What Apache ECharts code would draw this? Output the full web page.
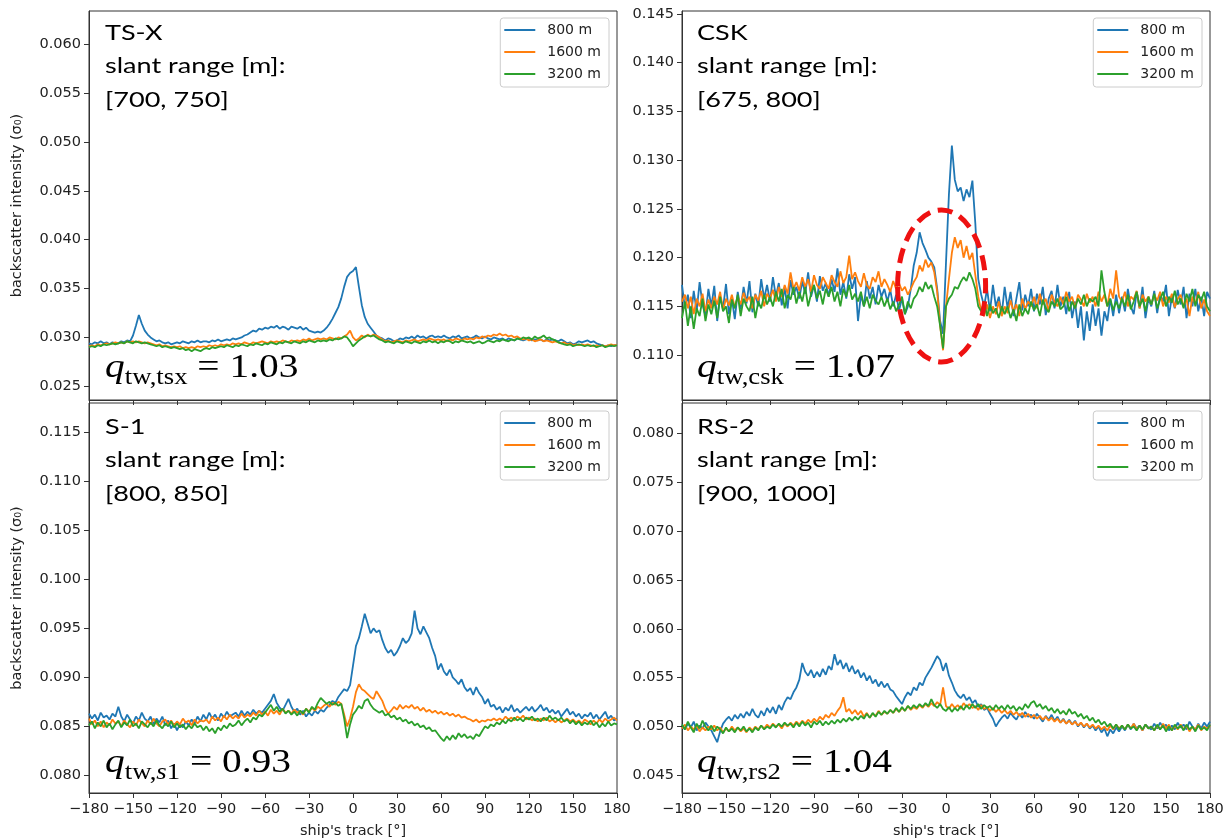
<!DOCTYPE html>
<html><head><meta charset="utf-8">
<script src="https://cdn.jsdelivr.net/npm/echarts@6/dist/echarts.min.js"></script>
<style>html,body{margin:0;padding:0;background:#fff}#c{width:1225px;height:840px}</style>
</head><body><div id="c"></div>
<script>
// ship's track [deg]
const track = [-180,-178,-176,-174,-172,-170,-168,-166,-164,-162,
-160,-158,-156,-154,-152,-150,-148,-146,-144,-142,
-140,-138,-136,-134,-132,-130,-128,-126,-124,-122,
-120,-118,-116,-114,-112,-110,-108,-106,-104,-102,
-100,-98,-96,-94,-92,-90,-88,-86,-84,-82,
-80,-78,-76,-74,-72,-70,-68,-66,-64,-62,
-60,-58,-56,-54,-52,-50,-48,-46,-44,-42,
-40,-38,-36,-34,-32,-30,-28,-26,-24,-22,
-20,-18,-16,-14,-12,-10,-8,-6,-4,-2,
0,2,4,6,8,10,12,14,16,18,
20,22,24,26,28,30,32,34,36,38,
40,42,44,46,48,50,52,54,56,58,
60,62,64,66,68,70,72,74,76,78,
80,82,84,86,88,90,92,94,96,98,
100,102,104,106,108,110,112,114,116,118,
120,122,124,126,128,130,132,134,136,138,
140,142,144,146,148,150,152,154,156,158,
160,162,164,166,168,170,172,174,176,178,
180];

const seriesNames = ['800 m', '1600 m', '3200 m'];

// TS-X
const tsx800 = [0.0294,0.0293,0.0295,0.0294,0.0296,0.0294,0.0295,0.0293,0.0295,0.0294,
0.0294,0.0296,0.0295,0.0297,0.0296,0.0302,0.0312,0.0323,0.0314,0.0307,
0.0303,0.0300,0.0298,0.0296,0.0297,0.0295,0.0294,0.0295,0.0293,0.0294,
0.0295,0.0294,0.0296,0.0295,0.0294,0.0296,0.0295,0.0297,0.0295,0.0296,
0.0296,0.0295,0.0297,0.0296,0.0298,0.0296,0.0297,0.0298,0.0297,0.0299,
0.0298,0.0299,0.0300,0.0302,0.0303,0.0305,0.0307,0.0306,0.0309,0.0308,
0.0310,0.0309,0.0311,0.0310,0.0312,0.0309,0.0311,0.0310,0.0308,0.0311,
0.0310,0.0309,0.0311,0.0308,0.0310,0.0307,0.0306,0.0305,0.0306,0.0305,
0.0307,0.0310,0.0314,0.0319,0.0325,0.0331,0.0340,0.0352,0.0362,0.0366,
0.0368,0.0372,0.0352,0.0333,0.0321,0.0314,0.0310,0.0306,0.0302,0.0300,
0.0299,0.0297,0.0299,0.0298,0.0296,0.0297,0.0299,0.0298,0.0300,0.0299,
0.0301,0.0299,0.0302,0.0300,0.0301,0.0299,0.0301,0.0302,0.0300,0.0301,
0.0300,0.0302,0.0300,0.0299,0.0301,0.0300,0.0302,0.0299,0.0300,0.0301,
0.0299,0.0300,0.0302,0.0300,0.0299,0.0301,0.0299,0.0298,0.0300,0.0299,
0.0298,0.0299,0.0297,0.0299,0.0298,0.0297,0.0299,0.0298,0.0297,0.0298,
0.0299,0.0297,0.0298,0.0297,0.0298,0.0296,0.0298,0.0297,0.0298,0.0297,
0.0296,0.0298,0.0296,0.0294,0.0295,0.0293,0.0294,0.0296,0.0295,0.0296,
0.0297,0.0295,0.0296,0.0294,0.0293,0.0292,0.0291,0.0292,0.0291,0.0292,
0.0292];
const tsx1600 = [0.0291,0.0292,0.0291,0.0293,0.0292,0.0293,0.0294,0.0293,0.0294,0.0295,
0.0294,0.0295,0.0294,0.0296,0.0295,0.0296,0.0295,0.0296,0.0295,0.0294,
0.0295,0.0294,0.0293,0.0292,0.0293,0.0291,0.0292,0.0291,0.0290,0.0291,
0.0290,0.0291,0.0289,0.0290,0.0289,0.0290,0.0289,0.0291,0.0290,0.0291,
0.0290,0.0292,0.0291,0.0292,0.0291,0.0293,0.0292,0.0293,0.0292,0.0294,
0.0293,0.0294,0.0293,0.0295,0.0294,0.0293,0.0295,0.0294,0.0295,0.0296,
0.0295,0.0294,0.0296,0.0295,0.0296,0.0295,0.0297,0.0296,0.0295,0.0297,
0.0296,0.0297,0.0296,0.0298,0.0297,0.0299,0.0297,0.0298,0.0299,0.0298,
0.0299,0.0298,0.0300,0.0299,0.0298,0.0300,0.0299,0.0301,0.0303,0.0307,
0.0300,0.0297,0.0299,0.0302,0.0300,0.0303,0.0301,0.0303,0.0302,0.0300,
0.0298,0.0296,0.0297,0.0295,0.0296,0.0297,0.0296,0.0295,0.0297,0.0296,
0.0297,0.0298,0.0296,0.0297,0.0298,0.0297,0.0299,0.0298,0.0297,0.0298,
0.0297,0.0298,0.0296,0.0298,0.0297,0.0299,0.0298,0.0297,0.0299,0.0298,
0.0299,0.0298,0.0300,0.0299,0.0301,0.0300,0.0302,0.0301,0.0303,0.0302,
0.0304,0.0302,0.0303,0.0301,0.0302,0.0300,0.0301,0.0299,0.0298,0.0299,
0.0297,0.0298,0.0296,0.0297,0.0298,0.0296,0.0297,0.0296,0.0295,0.0296,
0.0295,0.0294,0.0295,0.0293,0.0294,0.0292,0.0293,0.0292,0.0293,0.0292,
0.0293,0.0292,0.0291,0.0292,0.0291,0.0292,0.0291,0.0292,0.0293,0.0292,
0.0292];
const tsx3200 = [0.0290,0.0291,0.0290,0.0292,0.0291,0.0293,0.0292,0.0293,0.0294,0.0293,
0.0294,0.0295,0.0294,0.0296,0.0295,0.0294,0.0296,0.0295,0.0294,0.0295,
0.0294,0.0293,0.0292,0.0291,0.0292,0.0290,0.0291,0.0290,0.0289,0.0290,
0.0289,0.0288,0.0289,0.0287,0.0288,0.0286,0.0288,0.0287,0.0286,0.0288,
0.0289,0.0288,0.0290,0.0289,0.0290,0.0291,0.0290,0.0292,0.0291,0.0290,
0.0292,0.0291,0.0293,0.0292,0.0291,0.0293,0.0292,0.0294,0.0293,0.0292,
0.0294,0.0293,0.0295,0.0294,0.0293,0.0295,0.0294,0.0296,0.0295,0.0294,
0.0296,0.0295,0.0294,0.0296,0.0295,0.0297,0.0296,0.0295,0.0297,0.0296,
0.0297,0.0296,0.0298,0.0297,0.0299,0.0298,0.0299,0.0301,0.0300,0.0296,
0.0291,0.0294,0.0297,0.0299,0.0301,0.0302,0.0301,0.0302,0.0300,0.0298,
0.0297,0.0295,0.0296,0.0295,0.0294,0.0296,0.0295,0.0294,0.0296,0.0295,
0.0294,0.0296,0.0295,0.0294,0.0296,0.0295,0.0297,0.0295,0.0296,0.0294,
0.0296,0.0295,0.0297,0.0296,0.0294,0.0296,0.0295,0.0297,0.0296,0.0295,
0.0296,0.0294,0.0295,0.0296,0.0294,0.0295,0.0297,0.0296,0.0295,0.0297,
0.0296,0.0298,0.0297,0.0296,0.0298,0.0297,0.0299,0.0298,0.0300,0.0299,
0.0300,0.0298,0.0301,0.0299,0.0300,0.0302,0.0299,0.0300,0.0298,0.0297,
0.0295,0.0294,0.0293,0.0292,0.0293,0.0291,0.0292,0.0293,0.0292,0.0291,
0.0292,0.0291,0.0292,0.0290,0.0291,0.0292,0.0290,0.0291,0.0292,0.0291,
0.0292];

// CSK
const csk800 = [0.1172,0.1148,0.1162,0.1138,0.1166,0.1145,0.1175,0.1152,0.1140,0.1168,
0.1150,0.1171,0.1135,0.1160,0.1148,0.1173,0.1142,0.1158,0.1137,0.1165,
0.1147,0.1170,0.1153,0.1176,0.1144,0.1163,0.1150,0.1178,0.1158,0.1172,
0.1155,0.1180,0.1160,0.1174,0.1151,0.1169,0.1148,0.1177,0.1162,0.1170,
0.1158,0.1176,0.1163,0.1185,0.1160,0.1172,0.1155,0.1181,0.1166,0.1174,
0.1160,0.1178,0.1165,0.1189,0.1162,0.1175,0.1158,0.1183,0.1168,0.1180,
0.1135,0.1162,0.1150,0.1176,0.1158,0.1170,0.1152,0.1172,0.1160,0.1168,
0.1155,0.1167,0.1150,0.1162,0.1146,0.1158,0.1142,0.1150,0.1168,0.1192,
0.1205,0.1226,0.1215,0.1208,0.1200,0.1196,0.1190,0.1168,0.1135,0.1122,
0.1195,0.1265,0.1315,0.1280,0.1268,0.1272,0.1258,0.1270,0.1262,0.1279,
0.1235,0.1178,0.1162,0.1150,0.1168,0.1145,0.1172,0.1150,0.1160,0.1142,
0.1170,0.1148,0.1165,0.1140,0.1158,0.1175,0.1146,0.1162,0.1150,0.1168,
0.1145,0.1163,0.1152,0.1170,0.1141,0.1158,0.1166,0.1148,0.1172,0.1150,
0.1160,0.1142,0.1165,0.1138,0.1155,0.1128,0.1150,0.1115,0.1145,0.1125,
0.1152,0.1130,0.1148,0.1120,0.1145,0.1135,0.1158,0.1140,0.1162,0.1143,
0.1160,0.1145,0.1168,0.1150,0.1142,0.1165,0.1148,0.1170,0.1138,0.1158,
0.1150,0.1166,0.1143,0.1162,0.1155,0.1172,0.1140,0.1160,0.1148,0.1167,
0.1152,0.1170,0.1138,0.1163,0.1150,0.1168,0.1145,0.1160,0.1140,0.1165,
0.1158];
const csk1600 = [0.1155,0.1162,0.1148,0.1160,0.1142,0.1158,0.1150,0.1163,0.1145,0.1157,
0.1148,0.1160,0.1152,0.1165,0.1146,0.1158,0.1151,0.1162,0.1149,0.1160,
0.1152,0.1164,0.1155,0.1160,0.1148,0.1162,0.1156,0.1166,0.1150,0.1163,
0.1158,0.1167,0.1155,0.1170,0.1160,0.1172,0.1163,0.1185,0.1168,0.1175,
0.1166,0.1180,0.1170,0.1178,0.1165,0.1182,0.1172,0.1168,0.1180,0.1174,
0.1168,0.1182,0.1175,0.1170,0.1186,0.1174,0.1180,0.1202,0.1178,0.1185,
0.1176,0.1170,0.1184,0.1172,0.1168,0.1180,0.1175,0.1186,0.1170,0.1178,
0.1172,0.1165,0.1176,0.1168,0.1174,0.1166,0.1170,0.1162,0.1168,0.1175,
0.1180,0.1192,0.1186,0.1198,0.1190,0.1195,0.1185,0.1165,0.1130,0.1105,
0.1150,0.1178,0.1205,0.1221,0.1210,0.1218,0.1200,0.1212,0.1198,0.1205,
0.1182,0.1160,0.1145,0.1140,0.1152,0.1138,0.1150,0.1142,0.1155,0.1140,
0.1150,0.1143,0.1156,0.1145,0.1152,0.1140,0.1158,0.1147,0.1155,0.1150,
0.1160,0.1148,0.1163,0.1152,0.1158,0.1145,0.1162,0.1155,0.1150,0.1160,
0.1152,0.1165,0.1155,0.1160,0.1148,0.1162,0.1157,0.1150,0.1163,0.1154,
0.1160,0.1150,0.1165,0.1155,0.1162,0.1150,0.1168,0.1158,0.1187,0.1160,
0.1155,0.1165,0.1150,0.1160,0.1157,0.1166,0.1148,0.1162,0.1155,0.1160,
0.1152,0.1162,0.1156,0.1165,0.1150,0.1160,0.1154,0.1163,0.1149,0.1158,
0.1162,0.1150,0.1158,0.1140,0.1160,0.1152,0.1165,0.1148,0.1157,0.1145,
0.1140];
const csk3200 = [0.1138,0.1155,0.1130,0.1150,0.1127,0.1148,0.1140,0.1158,0.1135,0.1152,
0.1142,0.1156,0.1138,0.1160,0.1145,0.1150,0.1133,0.1157,0.1148,0.1162,
0.1140,0.1158,0.1150,0.1145,0.1160,0.1138,0.1155,0.1148,0.1162,0.1152,
0.1160,0.1150,0.1165,0.1155,0.1168,0.1148,0.1162,0.1157,0.1170,0.1153,
0.1165,0.1155,0.1170,0.1150,0.1163,0.1172,0.1158,0.1166,0.1152,0.1168,
0.1160,0.1170,0.1155,0.1165,0.1150,0.1168,0.1160,0.1172,0.1157,0.1163,
0.1155,0.1165,0.1150,0.1160,0.1148,0.1162,0.1156,0.1152,0.1160,0.1150,
0.1158,0.1147,0.1155,0.1145,0.1152,0.1160,0.1142,0.1155,0.1148,0.1158,
0.1162,0.1170,0.1165,0.1175,0.1168,0.1172,0.1160,0.1150,0.1130,0.1107,
0.1150,0.1158,0.1162,0.1170,0.1168,0.1175,0.1180,0.1176,0.1185,0.1178,
0.1168,0.1150,0.1145,0.1155,0.1140,0.1152,0.1143,0.1148,0.1138,0.1150,
0.1142,0.1150,0.1138,0.1147,0.1135,0.1152,0.1140,0.1148,0.1142,0.1155,
0.1146,0.1152,0.1140,0.1157,0.1148,0.1144,0.1155,0.1150,0.1158,0.1147,
0.1150,0.1160,0.1145,0.1155,0.1148,0.1158,0.1152,0.1162,0.1150,0.1158,
0.1155,0.1160,0.1150,0.1187,0.1165,0.1150,0.1158,0.1146,0.1155,0.1148,
0.1158,0.1150,0.1162,0.1147,0.1155,0.1165,0.1150,0.1158,0.1145,0.1160,
0.1152,0.1163,0.1148,0.1157,0.1165,0.1150,0.1160,0.1154,0.1166,0.1152,
0.1158,0.1148,0.1163,0.1155,0.1168,0.1150,0.1162,0.1156,0.1165,0.1150,
0.1145];

// S-1
const s1800 = [0.0863,0.0858,0.0862,0.0856,0.0864,0.0859,0.0861,0.0857,0.0863,0.0860,
0.0870,0.0860,0.0855,0.0862,0.0857,0.0853,0.0860,0.0856,0.0864,0.0858,
0.0855,0.0860,0.0852,0.0858,0.0854,0.0860,0.0851,0.0856,0.0848,0.0853,
0.0846,0.0852,0.0849,0.0855,0.0851,0.0857,0.0853,0.0860,0.0855,0.0862,
0.0857,0.0864,0.0858,0.0862,0.0856,0.0863,0.0859,0.0865,0.0860,0.0862,
0.0864,0.0860,0.0866,0.0861,0.0865,0.0862,0.0867,0.0863,0.0866,0.0864,
0.0868,0.0872,0.0876,0.0883,0.0874,0.0869,0.0866,0.0872,0.0878,0.0870,
0.0865,0.0868,0.0862,0.0866,0.0860,0.0864,0.0861,0.0866,0.0863,0.0867,
0.0865,0.0869,0.0872,0.0876,0.0874,0.0880,0.0884,0.0888,0.0886,0.0892,
0.0912,0.0932,0.0940,0.0952,0.0965,0.0955,0.0945,0.0950,0.0946,0.0948,
0.0938,0.0930,0.0925,0.0928,0.0922,0.0926,0.0932,0.0940,0.0935,0.0938,
0.0945,0.0968,0.0950,0.0944,0.0952,0.0946,0.0940,0.0930,0.0922,0.0908,
0.0914,0.0906,0.0902,0.0908,0.0900,0.0897,0.0893,0.0898,0.0890,0.0886,
0.0889,0.0882,0.0890,0.0884,0.0880,0.0873,0.0878,0.0870,0.0872,0.0867,
0.0870,0.0864,0.0869,0.0866,0.0872,0.0865,0.0868,0.0864,0.0867,0.0870,
0.0866,0.0870,0.0865,0.0868,0.0872,0.0866,0.0869,0.0864,0.0867,0.0863,
0.0866,0.0860,0.0864,0.0868,0.0862,0.0865,0.0860,0.0863,0.0858,0.0862,
0.0860,0.0864,0.0858,0.0862,0.0857,0.0861,0.0865,0.0858,0.0861,0.0856,
0.0858];
const s11600 = [0.0858,0.0852,0.0856,0.0850,0.0855,0.0849,0.0854,0.0851,0.0857,0.0853,
0.0855,0.0850,0.0856,0.0852,0.0849,0.0855,0.0851,0.0857,0.0853,0.0850,
0.0856,0.0852,0.0858,0.0853,0.0850,0.0855,0.0857,0.0852,0.0856,0.0851,
0.0855,0.0852,0.0858,0.0854,0.0856,0.0851,0.0857,0.0853,0.0856,0.0855,
0.0857,0.0853,0.0860,0.0856,0.0859,0.0855,0.0861,0.0857,0.0862,0.0858,
0.0861,0.0858,0.0863,0.0859,0.0862,0.0860,0.0864,0.0861,0.0866,0.0862,
0.0865,0.0861,0.0867,0.0863,0.0866,0.0862,0.0868,0.0864,0.0866,0.0863,
0.0867,0.0864,0.0866,0.0862,0.0868,0.0865,0.0869,0.0866,0.0870,0.0868,
0.0871,0.0873,0.0870,0.0874,0.0872,0.0875,0.0873,0.0862,0.0850,0.0858,
0.0870,0.0885,0.0893,0.0888,0.0886,0.0883,0.0880,0.0878,0.0886,0.0881,
0.0876,0.0868,0.0863,0.0866,0.0870,0.0867,0.0872,0.0868,0.0871,0.0869,
0.0872,0.0868,0.0870,0.0866,0.0869,0.0865,0.0867,0.0864,0.0866,0.0863,
0.0865,0.0862,0.0864,0.0861,0.0863,0.0860,0.0862,0.0859,0.0860,0.0858,
0.0857,0.0855,0.0857,0.0854,0.0856,0.0855,0.0857,0.0856,0.0858,0.0856,
0.0858,0.0856,0.0860,0.0857,0.0859,0.0856,0.0860,0.0858,0.0861,0.0857,
0.0859,0.0856,0.0858,0.0855,0.0858,0.0856,0.0859,0.0855,0.0857,0.0854,
0.0857,0.0854,0.0856,0.0858,0.0855,0.0857,0.0854,0.0856,0.0853,0.0857,
0.0855,0.0852,0.0856,0.0853,0.0857,0.0854,0.0858,0.0855,0.0857,0.0859,
0.0856];
const s13200 = [0.0851,0.0855,0.0848,0.0854,0.0850,0.0856,0.0849,0.0853,0.0847,0.0852,
0.0856,0.0849,0.0854,0.0851,0.0857,0.0850,0.0853,0.0848,0.0855,0.0852,
0.0849,0.0854,0.0850,0.0856,0.0851,0.0848,0.0853,0.0850,0.0855,0.0849,
0.0853,0.0849,0.0852,0.0847,0.0851,0.0848,0.0853,0.0849,0.0851,0.0846,
0.0850,0.0845,0.0848,0.0843,0.0849,0.0846,0.0851,0.0848,0.0853,0.0850,
0.0852,0.0856,0.0851,0.0855,0.0858,0.0854,0.0859,0.0857,0.0862,0.0860,
0.0864,0.0868,0.0872,0.0866,0.0870,0.0865,0.0868,0.0863,0.0866,0.0862,
0.0865,0.0861,0.0866,0.0863,0.0868,0.0864,0.0870,0.0867,0.0874,0.0879,
0.0876,0.0873,0.0875,0.0872,0.0874,0.0871,0.0873,0.0858,0.0838,0.0852,
0.0862,0.0866,0.0871,0.0868,0.0876,0.0878,0.0872,0.0868,0.0866,0.0864,
0.0866,0.0861,0.0863,0.0859,0.0861,0.0857,0.0859,0.0855,0.0857,0.0853,
0.0855,0.0851,0.0853,0.0849,0.0851,0.0847,0.0849,0.0845,0.0846,0.0842,
0.0838,0.0835,0.0840,0.0836,0.0841,0.0837,0.0843,0.0839,0.0842,0.0838,
0.0840,0.0837,0.0842,0.0840,0.0845,0.0850,0.0848,0.0852,0.0850,0.0854,
0.0852,0.0856,0.0853,0.0857,0.0855,0.0859,0.0856,0.0858,0.0855,0.0859,
0.0857,0.0860,0.0856,0.0858,0.0855,0.0859,0.0856,0.0861,0.0857,0.0859,
0.0856,0.0859,0.0855,0.0857,0.0853,0.0856,0.0852,0.0855,0.0851,0.0854,
0.0852,0.0856,0.0851,0.0854,0.0849,0.0853,0.0850,0.0855,0.0851,0.0853,
0.0852];

// RS-2
const rs2800 = [0.0502,0.0497,0.0503,0.0499,0.0505,0.0496,0.0501,0.0498,0.0504,0.0500,
0.0496,0.0490,0.0484,0.0495,0.0503,0.0507,0.0510,0.0506,0.0512,0.0508,
0.0513,0.0509,0.0515,0.0511,0.0518,0.0512,0.0509,0.0516,0.0511,0.0519,
0.0514,0.0520,0.0513,0.0522,0.0517,0.0525,0.0530,0.0528,0.0535,0.0540,
0.0548,0.0565,0.0556,0.0552,0.0558,0.0550,0.0556,0.0551,0.0559,0.0553,
0.0562,0.0558,0.0574,0.0563,0.0568,0.0559,0.0565,0.0556,0.0562,0.0554,
0.0558,0.0550,0.0555,0.0547,0.0552,0.0544,0.0548,0.0541,0.0546,0.0540,
0.0544,0.0538,0.0536,0.0531,0.0527,0.0523,0.0530,0.0535,0.0532,0.0540,
0.0537,0.0545,0.0542,0.0550,0.0555,0.0560,0.0566,0.0572,0.0568,0.0557,
0.0565,0.0552,0.0545,0.0537,0.0532,0.0529,0.0533,0.0527,0.0530,0.0524,
0.0527,0.0520,0.0523,0.0517,0.0519,0.0513,0.0508,0.0500,0.0505,0.0509,
0.0512,0.0508,0.0514,0.0510,0.0507,0.0513,0.0509,0.0515,0.0510,0.0512,
0.0508,0.0513,0.0509,0.0505,0.0511,0.0507,0.0512,0.0506,0.0510,0.0504,
0.0508,0.0503,0.0507,0.0502,0.0506,0.0500,0.0504,0.0499,0.0503,0.0498,
0.0501,0.0496,0.0500,0.0494,0.0498,0.0490,0.0497,0.0493,0.0499,0.0495,
0.0500,0.0496,0.0502,0.0497,0.0503,0.0498,0.0501,0.0496,0.0502,0.0499,
0.0497,0.0503,0.0498,0.0504,0.0499,0.0502,0.0496,0.0501,0.0497,0.0504,
0.0499,0.0502,0.0497,0.0505,0.0500,0.0496,0.0503,0.0498,0.0504,0.0500,
0.0505];
const rs21600 = [0.0498,0.0502,0.0496,0.0500,0.0497,0.0501,0.0495,0.0499,0.0496,0.0500,
0.0497,0.0501,0.0496,0.0499,0.0494,0.0498,0.0495,0.0500,0.0496,0.0499,
0.0495,0.0498,0.0494,0.0499,0.0496,0.0500,0.0497,0.0501,0.0498,0.0502,
0.0499,0.0503,0.0500,0.0502,0.0498,0.0503,0.0500,0.0504,0.0501,0.0505,
0.0502,0.0506,0.0503,0.0507,0.0504,0.0508,0.0505,0.0510,0.0507,0.0512,
0.0509,0.0514,0.0511,0.0516,0.0520,0.0530,0.0515,0.0518,0.0513,0.0517,
0.0512,0.0516,0.0510,0.0514,0.0509,0.0513,0.0511,0.0516,0.0512,0.0515,
0.0513,0.0517,0.0514,0.0518,0.0515,0.0519,0.0516,0.0521,0.0517,0.0520,
0.0518,0.0522,0.0519,0.0523,0.0520,0.0524,0.0521,0.0525,0.0522,0.0540,
0.0521,0.0518,0.0523,0.0519,0.0522,0.0518,0.0524,0.0520,0.0523,0.0519,
0.0521,0.0517,0.0522,0.0518,0.0520,0.0516,0.0519,0.0515,0.0518,0.0514,
0.0517,0.0513,0.0516,0.0512,0.0515,0.0511,0.0514,0.0510,0.0513,0.0509,
0.0512,0.0508,0.0511,0.0507,0.0510,0.0506,0.0509,0.0505,0.0508,0.0504,
0.0507,0.0503,0.0506,0.0502,0.0505,0.0501,0.0504,0.0500,0.0503,0.0499,
0.0502,0.0498,0.0501,0.0497,0.0500,0.0496,0.0501,0.0497,0.0502,0.0498,
0.0501,0.0497,0.0502,0.0498,0.0503,0.0497,0.0501,0.0496,0.0502,0.0498,
0.0500,0.0496,0.0501,0.0497,0.0503,0.0498,0.0502,0.0496,0.0501,0.0497,
0.0502,0.0497,0.0501,0.0495,0.0500,0.0497,0.0502,0.0496,0.0500,0.0498,
0.0501];
const rs23200 = [0.0502,0.0497,0.0505,0.0499,0.0494,0.0503,0.0498,0.0506,0.0500,0.0496,
0.0501,0.0495,0.0500,0.0497,0.0493,0.0499,0.0495,0.0498,0.0494,0.0499,
0.0496,0.0500,0.0495,0.0498,0.0494,0.0499,0.0496,0.0501,0.0497,0.0500,
0.0498,0.0502,0.0499,0.0503,0.0500,0.0504,0.0501,0.0503,0.0499,0.0504,
0.0500,0.0505,0.0501,0.0504,0.0499,0.0505,0.0502,0.0506,0.0501,0.0505,
0.0502,0.0506,0.0503,0.0507,0.0504,0.0508,0.0505,0.0509,0.0506,0.0510,
0.0507,0.0511,0.0508,0.0513,0.0509,0.0514,0.0510,0.0515,0.0512,0.0516,
0.0513,0.0517,0.0514,0.0519,0.0515,0.0520,0.0516,0.0521,0.0518,0.0522,
0.0519,0.0523,0.0520,0.0524,0.0521,0.0528,0.0522,0.0519,0.0523,0.0518,
0.0516,0.0520,0.0515,0.0519,0.0516,0.0521,0.0517,0.0522,0.0518,0.0523,
0.0519,0.0523,0.0518,0.0522,0.0519,0.0521,0.0517,0.0522,0.0518,0.0521,
0.0517,0.0522,0.0518,0.0521,0.0516,0.0520,0.0517,0.0523,0.0519,0.0524,
0.0526,0.0520,0.0523,0.0518,0.0521,0.0516,0.0519,0.0514,0.0518,0.0513,
0.0516,0.0512,0.0518,0.0513,0.0515,0.0510,0.0513,0.0508,0.0511,0.0506,
0.0509,0.0504,0.0507,0.0502,0.0505,0.0500,0.0503,0.0498,0.0502,0.0497,
0.0501,0.0497,0.0502,0.0498,0.0500,0.0496,0.0501,0.0497,0.0502,0.0498,
0.0500,0.0496,0.0502,0.0497,0.0501,0.0495,0.0500,0.0496,0.0502,0.0498,
0.0501,0.0496,0.0502,0.0497,0.0500,0.0495,0.0501,0.0497,0.0499,0.0496,
0.0502];

// y tick values
const tsxTicks = [0.025,0.030,0.035,0.040,0.045,0.050,0.055,0.060];
const cskTicks = [0.110,0.115,0.120,0.125,0.130,0.135,0.140,0.145];
const s1Ticks  = [0.080,0.085,0.090,0.095,0.100,0.105,0.110,0.115];
const rs2Ticks = [0.045,0.050,0.055,0.060,0.065,0.070,0.075,0.080];

// annotations
const sensors = ['TS-X', 'CSK', 'S-1', 'RS-2'];
const slantRanges = ['[700, 750]', '[675, 800]', '[800, 850]', '[900, 1000]'];
const qSubs = ['tw,tsx', 'tw,csk', 'tw,s1', 'tw,rs2'];
const qValues = ['1.03', '1.07', '0.93', '1.04'];
const ellipseCenter = [-3, 0.1171];   // CSK highlight (deg, sigma0)
const ellipseRadius = [30, 0.0078];

const panels = [
  {data:[tsx800,tsx1600,tsx3200], ticks:tsxTicks, min:0.0236, max:0.0634},
  {data:[csk800,csk1600,csk3200], ticks:cskTicks, min:0.1054, max:0.1453},
  {data:[s1800,s11600,s13200], ticks:s1Ticks, min:0.0782, max:0.1180},
  {data:[rs2800,rs21600,rs23200], ticks:rs2Ticks, min:0.0432, max:0.0831}
];

const colors = ['#1f77b4', '#ff7f0e', '#2ca02c'];
const gridPos = [
  {left:89, top:11, width:528, height:389},
  {left:682, top:11, width:528, height:389},
  {left:89, top:403, width:528, height:390},
  {left:682, top:403, width:528, height:390}
];
const legendPos = [
  {right:616, top:18}, {right:23, top:18}, {right:616, top:411}, {right:23, top:411}
];
const textLeft = [105, 697, 105, 697];
const textTop = [16, 16, 410, 410];
const qTop = [348, 348, 743, 743];

const axisColor = '#333';
const labelFont = 'DejaVu Sans';
const serif = 'Liberation Serif';

const chart = echarts.init(document.getElementById('c'), null, {renderer:'canvas'});

const grids = [], xAxes = [], yAxes = [], series = [], legends = [];
panels.forEach((p, i) => {
  const bottom = i >= 2;
  const left = i % 2 === 0;
  grids.push(Object.assign({show:true, borderColor:axisColor, borderWidth:1, backgroundColor:'transparent', containLabel:false, outerBoundsMode:'none'}, gridPos[i]));
  xAxes.push({
    type:'value', gridIndex:i, min:-180, max:180, interval:30,
    axisLine:{show:true, onZero:false, lineStyle:{color:axisColor, width:1}},
    axisTick:{show:true, length:5, lineStyle:{color:axisColor}},
    axisLabel:{show:bottom, fontSize:14.5, fontFamily:labelFont, color:'#222', margin:9,
      formatter: v => (v < 0 ? '\u2212' + (-v) : String(v))},
    splitLine:{show:false},
    name: bottom ? "ship's track [°]" : '',
    nameLocation:'middle', nameGap:31,
    nameTextStyle:{fontSize:14.5, fontFamily:labelFont, color:'#222'}
  });
  yAxes.push({
    type:'value', gridIndex:i, min:p.min, max:p.max,
    axisLine:{show:true, onZero:false, lineStyle:{color:axisColor, width:1}},
    axisTick:{show:true, length:5, customValues:p.ticks, lineStyle:{color:axisColor}},
    axisLabel:{show:true, customValues:p.ticks, fontSize:14.5, fontFamily:labelFont, color:'#222', margin:8,
      formatter: v => v.toFixed(3)},
    splitLine:{show:false},
    name: left ? 'backscatter intensity (\u03c3\u2080)' : '',
    nameLocation:'middle', nameGap:64, nameRotate:90,
    nameTextStyle:{fontSize:14.5, fontFamily:labelFont, color:'#222'}
  });
  p.data.forEach((arr, k) => {
    series.push({
      type:'line', name:seriesNames[k], xAxisIndex:i, yAxisIndex:i,
      data: track.map((x, j) => [x, arr[j]]),
      symbol:'none', showSymbol:false, clip:true, silent:true,
      lineStyle:{width:1.8, color:colors[k]}, itemStyle:{color:colors[k]},
      z: 2 + k
    });
  });
  legends.push(Object.assign({
    orient:'vertical', data:seriesNames, icon:'rect', itemWidth:31, itemHeight:2, itemGap:8,
    textStyle:{fontSize:14, fontFamily:labelFont, color:'#222', padding:[0,0,0,7]},
    backgroundColor:'rgba(255,255,255,0.85)', borderColor:'#cccccc', borderWidth:1, borderRadius:3,
    padding:[5,8,6,4], selectedMode:false
  }, legendPos[i]));
});

chart.setOption({
  animation:false,
  backgroundColor:'#fff',
  grid:grids, xAxis:xAxes, yAxis:yAxes, series:series, legend:legends
});

// text annotations (stretched horizontally like the original figure)
const richQ = {
  q:{fontFamily:serif, fontStyle:'italic', fontWeight:'normal', fontSize:34, lineHeight:41, fill:'#000'},
  s:{fontFamily:serif, fontWeight:'normal', fontSize:23, lineHeight:18, verticalAlign:'bottom', fill:'#000'},
  si:{fontFamily:serif, fontStyle:'italic', fontWeight:'normal', fontSize:23, lineHeight:18, verticalAlign:'bottom', fill:'#000'},
  e:{fontFamily:serif, fontWeight:'normal', fontSize:34, lineHeight:41, fill:'#000'}
};
const graphics = [];
for (let i = 0; i < 4; i++) {
  graphics.push({
    type:'text', x:textLeft[i], y:textTop[i], scaleX:1.23, silent:true, z:50,
    style:{text: sensors[i] + '\nslant range [m]:\n' + slantRanges[i],
      fontFamily:'Lato', fontSize:22, fontWeight:'normal', lineHeight:33.5,
      fill:'#000', align:'left', verticalAlign:'top'}
  });
  let sub = '{s|' + qSubs[i] + '}';
  if (qSubs[i] === 'tw,s1') sub = '{s|tw,}{si|s}{s|1}';
  graphics.push({
    type:'text', x:textLeft[i], y:qTop[i], scaleX:1.16, silent:true, z:50,
    style:{text: '{q|q}' + sub + '{e| = ' + qValues[i] + '}', rich:richQ,
      fontFamily:serif, fontSize:34, fill:'#000', align:'left', verticalAlign:'top'}
  });
}
const c0 = chart.convertToPixel({xAxisIndex:1, yAxisIndex:1}, ellipseCenter);
const c1 = chart.convertToPixel({xAxisIndex:1, yAxisIndex:1},
  [ellipseCenter[0] + ellipseRadius[0], ellipseCenter[1] + ellipseRadius[1]]);
graphics.push({
  type:'ellipse', z:100, silent:true,
  shape:{cx:c0[0], cy:c0[1], rx:Math.abs(c1[0]-c0[0]), ry:Math.abs(c0[1]-c1[1])},
  style:{fill:null, stroke:'#ee1111', lineWidth:5, lineDash:[15,8]}
});
chart.setOption({graphic:graphics});
</script></body></html>
